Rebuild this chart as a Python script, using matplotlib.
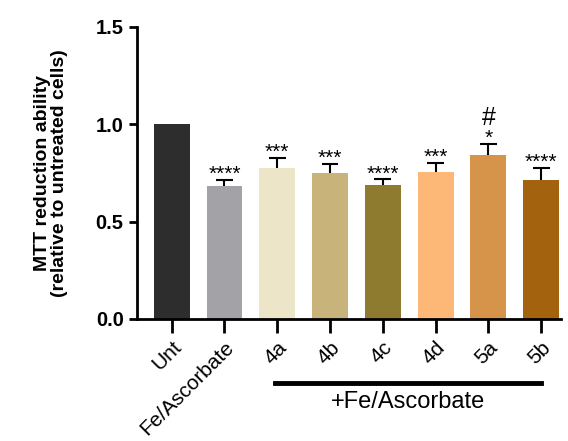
import numpy as np
import matplotlib.pyplot as plt

plt.rcParams['font.family'] = ['Liberation Sans', 'DejaVu Sans']

# data
groups = ["Unt", "Fe/Ascorbate", "4a", "4b", "4c", "4d", "5a", "5b"]
means = [1.0, 0.683, 0.776, 0.748, 0.687, 0.755, 0.841, 0.712]
errors = [0.0, 0.031, 0.052, 0.046, 0.029, 0.045, 0.056, 0.062]
stars = ["", "****", "***", "***", "****", "***", "*", "****"]
hashes = ["", "", "", "", "", "", "#", ""]
colors = ["#2d2d2d", "#a3a2a7", "#ede5c8", "#c8b47a",
          "#8f7b30", "#fdb777", "#d6944a", "#a3620e"]

fig = plt.figure(figsize=(5.68, 4.41), dpi=100)
ax = fig.add_axes([0.241, 0.277, 0.747, 0.662])

x = np.arange(len(groups))
ax.bar(x, means, width=0.68, color=colors, zorder=2)

# upper-only error bars with a cap
tops = np.array(means) + np.array(errors)
has_err = np.array(errors) > 0
ax.vlines(x[has_err], np.array(means)[has_err], tops[has_err],
          color="black", lw=1.5, zorder=3)
ax.hlines(tops[has_err], x[has_err] - 0.16, x[has_err] + 0.16,
          color="black", lw=1.5, zorder=3)

# significance marks
for i in range(len(groups)):
    if stars[i]:
        ax.text(x[i], tops[i] - 0.02, stars[i], ha="center", va="bottom",
                fontsize=15)
    if hashes[i]:
        ax.text(x[i], tops[i] + 0.072, hashes[i], ha="center", va="bottom",
                fontsize=18)

ax.set_ylim(0, 1.5)
ax.set_xlim(-0.66, 7.38)
ax.set_yticks([0, 0.5, 1.0, 1.5])
ax.set_yticklabels(["0.0", "0.5", "1.0", "1.5"], fontweight="bold")
ax.set_xticks(x)
ax.set_xticklabels(groups, rotation=45, ha="right", rotation_mode="anchor")

ax.tick_params(axis="y", labelsize=14.5, width=2, length=6)
ax.tick_params(axis="x", labelsize=15, width=2, length=10)
for side in ["top", "right"]:
    ax.spines[side].set_visible(False)
for side in ["left", "bottom"]:
    ax.spines[side].set_linewidth(2)

ax.set_ylabel("MTT reduction ability\n(relative to untreated cells)",
              fontsize=14, fontweight="bold", labelpad=20, linespacing=1.0)

# bracket under the treated groups
trans = ax.get_xaxis_transform()
ax.plot([1.95, 7.0], [-0.219, -0.219], color="black", lw=3.5,
        transform=trans, clip_on=False)
ax.text(4.48, -0.285, "+Fe/Ascorbate", ha="center", va="center",
        fontsize=17, transform=trans)

fig.savefig("out.png", dpi=100)
